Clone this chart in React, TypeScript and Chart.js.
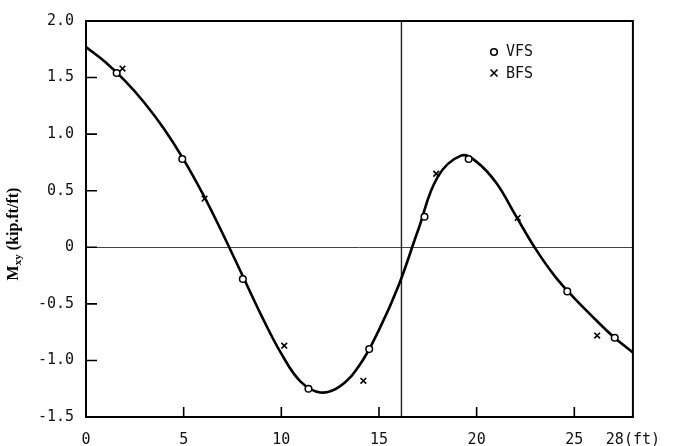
import React, { useEffect, useRef } from "react";
import { Chart, registerables } from "chart.js";

Chart.register(...registerables);

// Fitted curve
const CURVE_X = [0, 1, 2, 3, 4, 5, 6, 7, 8, 9, 10, 11, 12, 13, 14, 15, 16, 17, 18, 19.2, 20, 21, 22, 23, 24, 25, 26, 27, 28];
const CURVE_Y = [1.77, 1.635, 1.47, 1.275, 1.045, 0.775, 0.465, 0.12, -0.245, -0.61, -0.94, -1.19, -1.283, -1.229, -1.043, -0.73, -0.34, 0.15, 0.62, 0.81, 0.755, 0.57, 0.28, -0.01, -0.255, -0.45, -0.625, -0.79, -0.93];

// VFS (circles)
const VFS_X = [1.57, 4.93, 8.03, 11.39, 14.5, 17.33, 19.59, 24.64, 27.07];
const VFS_Y = [1.54, 0.78, -0.28, -1.25, -0.9, 0.27, 0.78, -0.39, -0.8];

// BFS (crosses)
const BFS_X = [1.87, 6.07, 10.15, 14.2, 17.93, 22.1, 26.17];
const BFS_Y = [1.58, 0.43, -0.87, -1.18, 0.65, 0.26, -0.78];

const X_TICKS = [0, 5, 10, 15, 20, 25, 28];
const X_TICK_LABELS = ["0", "5", "10", "15", "20", "25", "28(ft)"];
const Y_TICKS = [-1.5, -1.0, -0.5, 0, 0.5, 1.0, 1.5, 2.0];
const Y_TICK_LABELS = ["-1.5", "-1.0", "-0.5", "0", "0.5", "1.0", "1.5", "2.0"];
const REF_X = 16.15;
const REF_Y = 0;

const MONO = "'DejaVu Sans Mono', monospace";

const framePlugin = {
  id: "framePlugin",
  beforeDatasetsDraw(chart: any) {
    const { ctx, chartArea, scales } = chart;
    const xs = scales.x;
    const ys = scales.y;
    ctx.save();
    ctx.strokeStyle = "#444";
    ctx.lineWidth = 1;
    const yz = Math.round(ys.getPixelForValue(REF_Y)) + 0.5;
    ctx.beginPath();
    ctx.moveTo(chartArea.left, yz);
    ctx.lineTo(chartArea.right, yz);
    ctx.stroke();
    ctx.strokeStyle = "#222";
    ctx.lineWidth = 1.4;
    const xv = xs.getPixelForValue(REF_X);
    ctx.beginPath();
    ctx.moveTo(xv, chartArea.top);
    ctx.lineTo(xv, chartArea.bottom);
    ctx.stroke();
    ctx.restore();
  },
  afterDraw(chart: any) {
    const { ctx, chartArea, scales } = chart;
    const xs = scales.x;
    const ys = scales.y;
    ctx.save();
    ctx.strokeStyle = "#000";
    ctx.lineWidth = 2;
    ctx.strokeRect(chartArea.left, chartArea.top, chartArea.right - chartArea.left, chartArea.bottom - chartArea.top);
    ctx.lineWidth = 1.6;
    ctx.beginPath();
    Y_TICKS.forEach((v) => {
      const y = ys.getPixelForValue(v);
      ctx.moveTo(chartArea.left, y);
      ctx.lineTo(chartArea.left + 11, y);
    });
    X_TICKS.forEach((v) => {
      if (v === 0 || v === 28) return;
      const x = xs.getPixelForValue(v);
      ctx.moveTo(x, chartArea.bottom);
      ctx.lineTo(x, chartArea.bottom - 10);
    });
    ctx.stroke();

    // legend
    const lx = 494;
    ctx.lineWidth = 1.6;
    ctx.fillStyle = "#fff";
    ctx.beginPath();
    ctx.arc(lx, 52, 3.3, 0, Math.PI * 2);
    ctx.fill();
    ctx.stroke();
    ctx.beginPath();
    ctx.moveTo(lx - 3.5, 73 - 3.5);
    ctx.lineTo(lx + 3.5, 73 + 3.5);
    ctx.moveTo(lx + 3.5, 73 - 3.5);
    ctx.lineTo(lx - 3.5, 73 + 3.5);
    ctx.stroke();
    ctx.fillStyle = "#111";
    ctx.font = "15px " + MONO;
    ctx.textAlign = "left";
    ctx.textBaseline = "middle";
    ctx.fillText("VFS", 506, 52);
    ctx.fillText("BFS", 506, 74);

    // y-axis title
    ctx.translate(13, 234);
    ctx.rotate(-Math.PI / 2);
    const f1 = "bold 16px 'Liberation Serif', serif";
    const f2 = "bold 11px 'Liberation Serif', serif";
    const p1 = "M";
    const p2 = "xy";
    const p3 = " (kip.ft/ft)";
    ctx.font = f1;
    const w1 = ctx.measureText(p1).width;
    const w3 = ctx.measureText(p3).width;
    ctx.font = f2;
    const w2 = ctx.measureText(p2).width;
    let sx = -(w1 + w2 + w3) / 2;
    ctx.fillStyle = "#000";
    ctx.textBaseline = "alphabetic";
    ctx.font = f1;
    ctx.fillText(p1, sx, 5);
    sx += w1;
    ctx.font = f2;
    ctx.fillText(p2, sx, 8);
    sx += w2;
    ctx.font = f1;
    ctx.fillText(p3, sx, 5);
    ctx.restore();
  },
};

export default function App() {
  const ref = useRef<HTMLCanvasElement>(null);
  useEffect(() => {
    if (!ref.current) return;
    const chart = new Chart(ref.current, {
      type: "scatter",
      data: {
        datasets: [
          {
            label: "curve",
            data: CURVE_X.map((x, i) => ({ x, y: CURVE_Y[i] })),
            showLine: true,
            borderColor: "#000",
            borderWidth: 2.6,
            pointRadius: 0,
            tension: 0.4,
            order: 3,
          } as any,
          {
            label: "VFS",
            data: VFS_X.map((x, i) => ({ x, y: VFS_Y[i] })),
            pointStyle: "circle",
            pointRadius: 3.3,
            borderColor: "#000",
            backgroundColor: "#fff",
            borderWidth: 1.5,
            order: 1,
          },
          {
            label: "BFS",
            data: BFS_X.map((x, i) => ({ x, y: BFS_Y[i] })),
            pointStyle: "crossRot",
            pointRadius: 4,
            borderColor: "#000",
            backgroundColor: "#000",
            borderWidth: 1.6,
            order: 2,
          },
        ],
      },
      options: {
        animation: false,
        responsive: false,
        layout: { padding: { top: 21, right: 39, left: 0, bottom: 0 } },
        plugins: { legend: { display: false }, tooltip: { enabled: false } },
        scales: {
          x: {
            type: "linear",
            min: 0,
            max: 28,
            grid: { display: false, drawTicks: false },
            border: { display: false },
            afterFit: (s: any) => {
              s.height = 29;
            },
            afterBuildTicks: (s: any) => {
              s.ticks = X_TICKS.map((v) => ({ value: v }));
            },
            ticks: {
              padding: 14,
              color: "#111",
              font: { family: MONO, size: 15 },
              maxRotation: 0,
              autoSkip: false,
              callback: (v: any) => {
                const i = X_TICKS.indexOf(Number(v));
                return i >= 0 ? X_TICK_LABELS[i] : "";
              },
            },
          },
          y: {
            type: "linear",
            min: -1.5,
            max: 2.0,
            grid: { display: false, drawTicks: false },
            border: { display: false },
            afterFit: (s: any) => {
              s.width = 86;
            },
            afterBuildTicks: (s: any) => {
              s.ticks = Y_TICKS.map((v) => ({ value: v }));
            },
            ticks: {
              padding: 12,
              color: "#111",
              font: { family: MONO, size: 15 },
              autoSkip: false,
              callback: (v: any) => {
                const i = Y_TICKS.findIndex((t) => Math.abs(t - Number(v)) < 1e-9);
                return i >= 0 ? Y_TICK_LABELS[i] : "";
              },
            },
          },
        },
      },
      plugins: [framePlugin],
    });
    return () => chart.destroy();
  }, []);
  return (
    <div style={{ position: "fixed", left: 0, top: 0, width: 674, height: 446, background: "#fff" }}>
      <canvas ref={ref} width={674} height={446} style={{ display: "block" }} />
    </div>
  );
}
